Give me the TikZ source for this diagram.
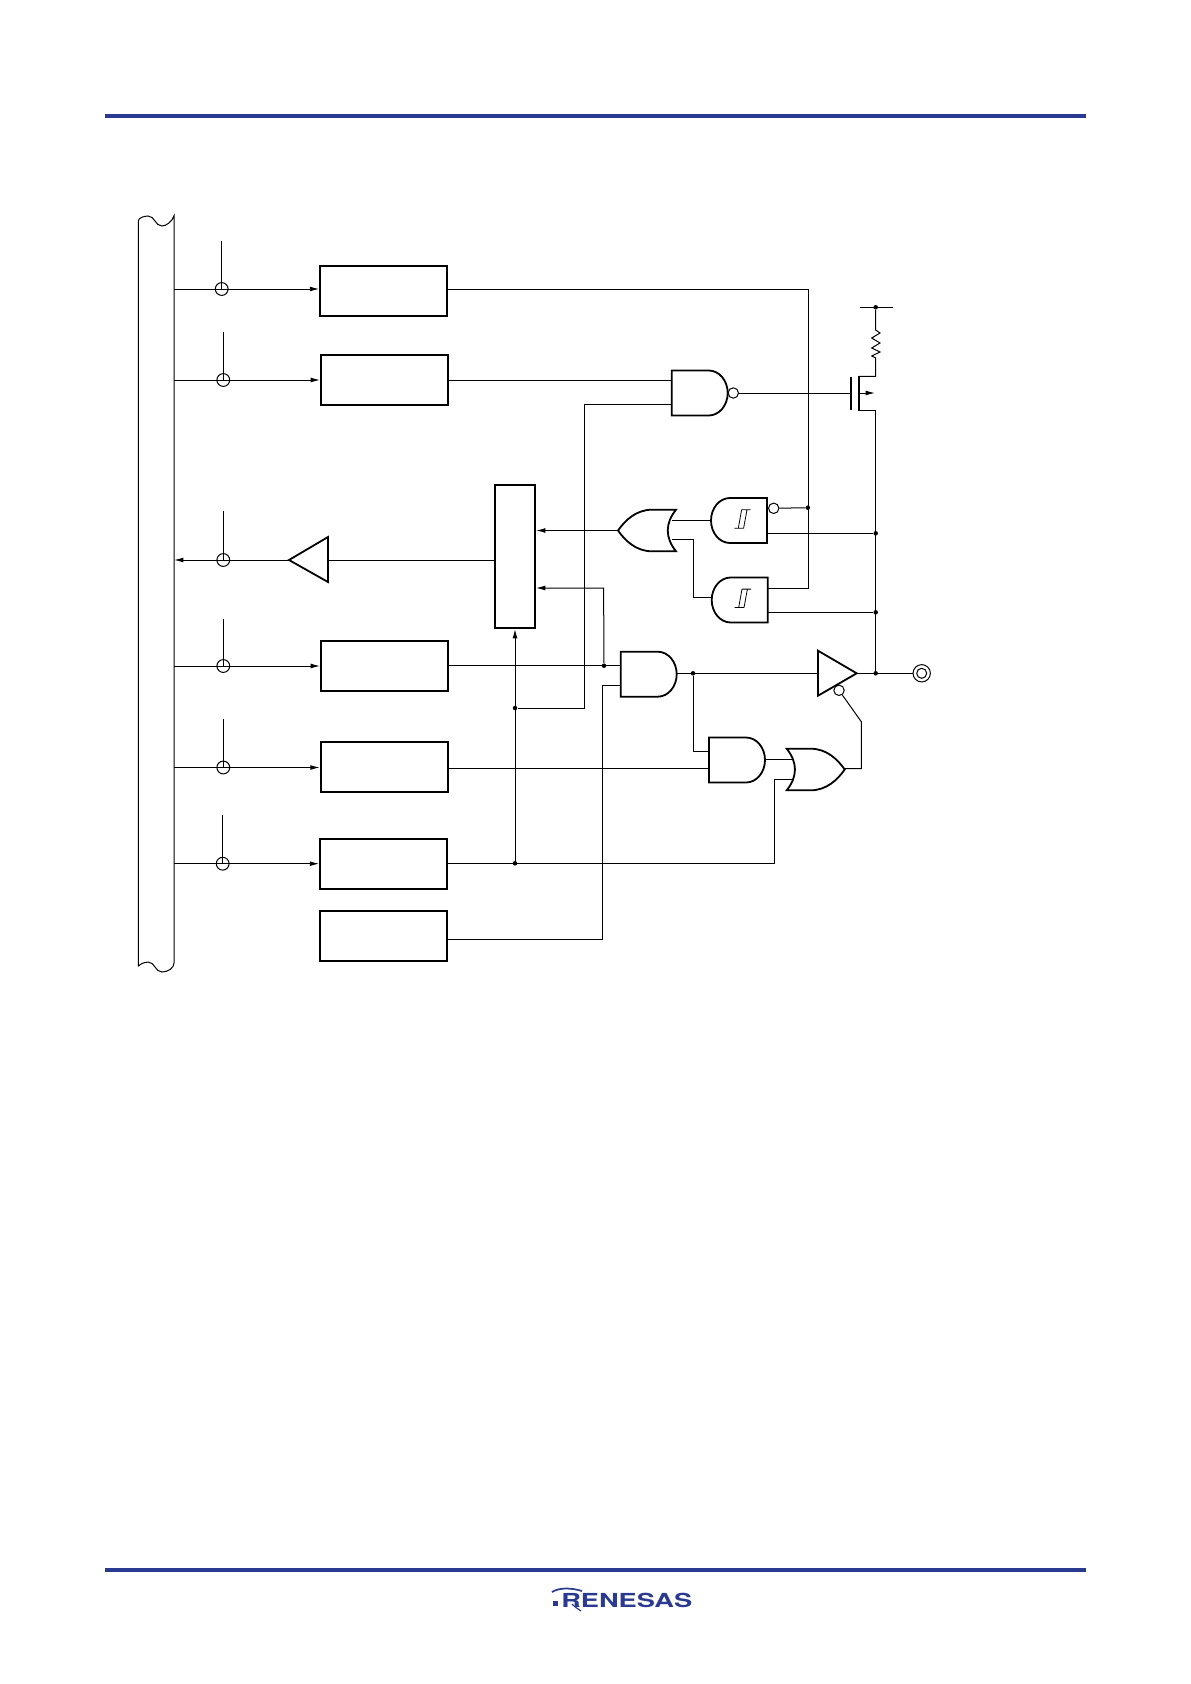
\documentclass[tikz,border=0pt]{standalone}
\usepackage{fontspec}
\setmainfont{TeX Gyre Heros}
\usetikzlibrary{arrows.meta}
\definecolor{renblue}{HTML}{2B3A91}
\tikzset{
  x=.75pt,y=-.75pt,
  wire/.style={line width=.75pt,line join=miter},
  arr/.style={wire,-{Latex[length=7pt,width=3.6pt]}},
  bar/.style={line width=1.35pt},
  box/.style={draw,line width=1.4pt,inner sep=0pt,minimum width=95.25pt,minimum height=37.5pt},
  dot/.style={circle,fill=black,inner sep=0pt,minimum size=3.4pt},
  bubble/.style={circle,draw,fill=white,line width=.75pt,inner sep=0pt,minimum size=7.8pt},
  tap/.style={circle,draw,line width=.75pt,inner sep=0pt,minimum size=9.6pt},
  pics/andshape/.style={code={
    \draw[bar,line join=miter] (0,-22.5)--(37,-22.5) .. controls (47.5,-22.5) and (56,-12.4) .. (56,0)
      .. controls (56,12.4) and (47.5,22.5) .. (37,22.5)--(0,22.5)--cycle;}},
  pics/orshape/.style={code={
    \draw[bar,line join=miter] (0,-20.8)--(24,-20.8) .. controls (40,-20.8) and (51,-10) .. (58,0)
      .. controls (51,10) and (40,20.8) .. (24,20.8)--(0,20.8)
      .. controls (11,7) and (11,-7) .. (0,-20.8)--cycle;}},
  pics/schmitt/.style={code={
    \draw[line width=.6pt] (-8,9.2)--(1.3,9.2) (-0.7,-9.2)--(8.3,-9.2)
      (-4,9.2)--(-0.7,-9.2) (1.3,9.2)--(4.7,-9.2);}}
}
\begin{document}
\begin{tikzpicture}
\useasboundingbox[fill=white] (0,0) rectangle (1190,1684);
% page rules
\fill[renblue] (104.5,114) rectangle (1086,118);
\fill[renblue] (104.5,1568) rectangle (1086,1572);
% logo
\node[anchor=base west,inner sep=0pt,text=renblue,font=\bfseries] (logo) at (561,1607)
  {\scalebox{2.04}[1.45]{RENESAS}};
\fill[renblue] (553,1601) rectangle (558,1606);
\draw[renblue,line width=1.3pt] (552,1592) .. controls (560,1587) and (572,1588) .. (582,1591);
\draw[renblue,line width=.9pt] (572,1604) .. controls (575,1607) and (578,1609) .. (581,1611);
% bus
\draw[wire] (174,215.7) .. controls (172,222) and (166,226) .. (162,226)
  .. controls (155,226) and (155,216) .. (148,216) .. controls (144,216) and (138.3,218) .. (138.3,221)
  -- (138.3,966) .. controls (142,963) and (145,962) .. (148,962)
  .. controls (155,962) and (155,972) .. (162,972) .. controls (168,972) and (174,968) .. (174,963) -- cycle;
% boxes
\node[box] (b1) at (383.7,290.7) {};
\node[box] (b2) at (384.5,380) {};
\node[box,minimum width=30pt,minimum height=107pt] (mux) at (515,556.7) {};
\node[box] (b3) at (384.5,665.7) {};
\node[box] (b4) at (384.2,766.7) {};
\node[box] (b5) at (383.7,864.3) {};
\node[box] (b6) at (383.7,935.7) {};
% tap circles
\node[tap] (t1) at (221.7,289) {};
\node[tap] (t2) at (223.3,380) {};
\node[tap] (t3) at (223.3,560) {};
\node[tap] (t4) at (223.3,666) {};
\node[tap] (t5) at (223.3,767.5) {};
\node[tap] (t6) at (222.7,863.7) {};
\coordinate (c1) at (221.7,241);
\coordinate (c2) at (223.3,332);
\coordinate (c3) at (223.3,511);
\coordinate (c4) at (223.3,618.6);
\coordinate (c5) at (223.3,718.5);
\coordinate (c6) at (222.7,815);
\foreach \i in {1,...,6}{\draw[wire] (c\i) -- (t\i.center);}
% bus taps
\coordinate (s1) at (174,289);
\coordinate (s2) at (174,380);
\coordinate (s3) at (174,560);
\coordinate (s4) at (174,666);
\coordinate (s5) at (174,767.5);
\coordinate (s6) at (174,863.7);
\draw[arr] (s1) -- (b1.west |- s1);
\draw[arr] (s2) -- (b2.west |- s2);
\draw[arr] (s4) -- (b3.west |- s4);
\draw[arr] (s5) -- (b4.west |- s5);
\draw[arr] (s6) -- (b5.west |- s6);
% input buffer to bus
\coordinate (ib) at (328,560);
\draw[bar,line join=miter] (289,560) -- (328,537) -- (328,582) -- cycle;
\draw[wire] (mux.west |- ib) -- (ib);
\draw[arr] (289,560) -- (s3);
% gates
\pic at (671.7,393) {andshape};
\pic[xscale=-1] at (767,520.5) {andshape};
\pic[xscale=-1] at (767.7,600) {andshape};
\pic at (620.7,674.2) {andshape};
\pic at (709,760) {andshape};
\pic[xscale=-1] at (676,530.5) {orshape};
\pic at (786.7,769.5) {orshape};
\pic at (742.3,519) {schmitt};
\pic at (742.7,598.3) {schmitt};
\node[bubble] (nb) at (733.3,393) {};
\node[bubble] (sb) at (773.7,508.3) {};
% output buffer
\draw[bar,line join=miter] (818,650.7) -- (856.7,673.3) -- (818,695.7) -- cycle;
\node[bubble] (eb2) at (839,690.3) {};
% pad
\node[circle,draw,line width=.75pt,inner sep=0pt,minimum size=13pt] (pad) at (921.7,673.3) {};
\node[circle,draw,line width=.75pt,inner sep=0pt,minimum size=7.5pt] (padi) at (pad.center) {};
% dots
\node[dot] (dvdd) at (875.7,307.3) {};
\node[dot] (ds1) at (807.8,507.7) {};
\node[dot] (dv1) at (875.7,533.3) {};
\node[dot] (dv2) at (875.7,612.3) {};
\node[dot] (dout) at (875.7,673.3) {};
\node[dot] (dand) at (693,673.3) {};
\node[dot] (d3) at (604,665.7) {};
\node[dot] (dm) at (515,708) {};
\node[dot] (db5) at (515,863.3) {};
% top box to schmitt
\draw[wire] (b1.east |- s1) -- (808,289) -- (808,588.3) -- (767.7,588.3);
\draw[wire] (sb) -- (ds1);
\draw[wire] (767,533.3) -- (dv1);
\draw[wire] (767.7,612.3) -- (dv2);
% nand
\draw[wire] (b2.east |- s2) -- (671.7,380);
\draw[wire] (dm) -- (584.3,708) -- (584.3,404.3) -- (671.7,404.3);
\draw[wire] (nb) -- (850.7,393);
% MOS + resistor
\draw[bar] (850.7,377.3) -- (850.7,410);
\draw[bar] (859,376.3) -- (859,410.7);
\draw[wire] (859,376.3) -- (875.7,376.3) -- (875.7,358)
  -- (871.7,356) -- (880,352) -- (871.7,348) -- (880,343) -- (871.7,338) -- (880,333) -- (875.7,330) -- (dvdd);
\draw[wire] (860,307.3) -- (893,307.3);
\draw[arr] (859,393) -- (875,393);
\draw[wire] (859,410.7) -- (875.7,410.7) -- (dout);
% OR to mux
\draw[arr] (618.3,530.5) -- (mux.east |- 0,530.5);
\draw[wire] (711,520.3) -- (671.5,520.3);
\draw[wire] (711.7,597.3) -- (693.3,597.3) -- (693.3,539.3) -- (671.5,539.3);
% box 3 and and1
\draw[wire] (b3.east |- d3) -- (620.7,665.7);
\draw[arr] (d3) -- (603.6,588) -- (mux.east |- 0,588);
\draw[wire] (b6.east |- 0,939.3) -- (602.3,939.3) -- (602.3,685.7) -- (620.7,685.7);
\draw[wire] (676.7,673.3) -- (818,673.3);
\draw[wire] (856.7,673.3) -- (pad);
\draw[wire] (dand) -- (693,751.3) -- (709,751.3);
% box 4 and and2
\draw[wire] (b4.east |- 0,768.3) -- (709,768.3);
\draw[wire] (765,759.3) -- (793,759.3);
% box 5
\draw[wire] (b5.east |- db5) -- (774.3,863.3) -- (774.3,779.3) -- (793,779.3);
\draw[arr] (db5) -- (mux.south |- db5) -- (mux.south);
% enable
\draw[wire] (844.7,768.5) -- (861.3,768.5) -- (861.3,721.7) -- (eb2);
\end{tikzpicture}
\end{document}
